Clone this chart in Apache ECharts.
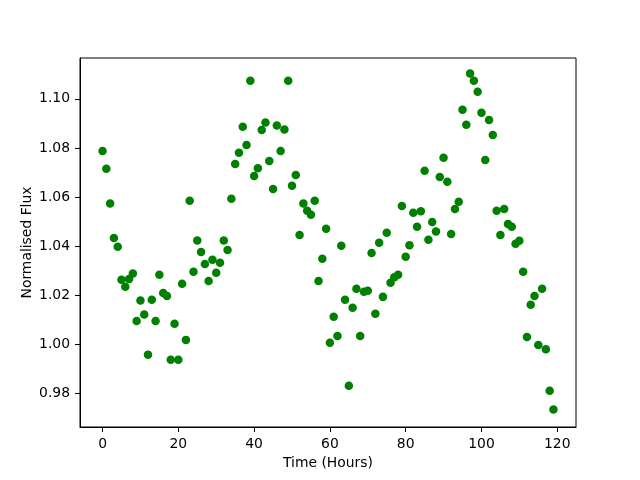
<!DOCTYPE html>
<html>
<head>
<meta charset="utf-8">
<script src="https://cdn.jsdelivr.net/npm/echarts@6/dist/echarts.min.js"></script>
<style>html,body{margin:0;padding:0;background:#fff}#c{width:640px;height:480px}</style>
</head>
<body>
<div id="c"></div>
<script>
const hours = Array.from({length:120},(_,i)=>i);
const flux = [
1.0788,1.0715,1.0574,1.0434,1.0398,1.0264,1.0235,1.0267,1.0289,1.0096,
1.0179,1.0122,0.9959,1.0182,1.0096,1.0284,1.0210,1.0198,0.9938,1.0085,
0.9938,1.0247,1.0019,1.0585,1.0296,1.0423,1.0377,1.0328,1.0259,1.0345,
1.0292,1.0333,1.0423,1.0385,1.0593,1.0735,1.0780,1.0886,1.0812,1.1073,
1.0686,1.0717,1.0873,1.0904,1.0747,1.0633,1.0891,1.0788,1.0875,1.1073,
1.0646,1.0690,1.0446,1.0574,1.0544,1.0528,1.0585,1.0259,1.0349,1.0471,
1.0007,1.0113,1.0035,1.0402,1.0182,0.9832,1.0150,1.0227,1.0035,1.0215,
1.0219,1.0373,1.0125,1.0414,1.0194,1.0455,1.0251,1.0274,1.0284,1.0564,
1.0357,1.0404,1.0536,1.0479,1.0542,1.0707,1.0426,1.0499,1.0460,1.0682,
1.0760,1.0662,1.0450,1.0552,1.0581,1.0955,1.0894,1.1103,1.1073,1.1029,
1.0943,1.0751,1.0914,1.0853,1.0544,1.0446,1.0552,1.0491,1.0479,1.0410,
1.0422,1.0296,1.0031,1.0162,1.0198,0.9998,1.0227,0.9981,0.9812,0.9736
];
const xTicks = [0,20,40,60,80,100,120];
const yTicks = [0.98,1.00,1.02,1.04,1.06,1.08,1.10];

const font = 'DejaVu Sans';
const chart = echarts.init(document.getElementById('c'), null, {renderer:'canvas'});
chart.setOption({
  animation:false,
  backgroundColor:'#fff',
  grid:{left:80,right:64,top:58,bottom:53,show:true,borderColor:'#000',borderWidth:1,backgroundColor:'#fff'},
  xAxis:{
    type:'value', min:-5.95, max:124.95,
    name:'Time (Hours)', nameLocation:'middle', nameGap:29, nameMoveOverlap:false,
    nameTextStyle:{fontFamily:font,fontSize:13.9,color:'#000',verticalAlign:'top'},
    axisLine:{show:true,onZero:false,lineStyle:{color:'#000',width:1}},
    axisTick:{show:true,inside:false,length:5,lineStyle:{color:'#000'},customValues:xTicks},
    axisLabel:{show:true,margin:10,fontFamily:font,fontSize:13.9,color:'#000',customValues:xTicks,formatter:v=>String(v)},
    splitLine:{show:false}
  },
  yAxis:{
    type:'value', min:0.96645, max:1.1166,
    name:'Normalised Flux', nameLocation:'middle', nameGap:53, nameMoveOverlap:false,
    nameTextStyle:{fontFamily:font,fontSize:13.9,color:'#000',verticalAlign:'middle'},
    axisLine:{show:true,onZero:false,lineStyle:{color:'#000',width:1}},
    axisTick:{show:true,inside:false,length:5,lineStyle:{color:'#000'},customValues:yTicks},
    axisLabel:{show:true,margin:10,fontFamily:font,fontSize:13.9,color:'#000',customValues:yTicks,formatter:v=>v.toFixed(2)},
    splitLine:{show:false}
  },
  series:[{
    type:'scatter',
    data:hours.map((h,i)=>[h,flux[i]]),
    symbol:'circle', symbolSize:8.5,
    itemStyle:{color:'#008000',opacity:1}
  }]
});
</script>
</body>
</html>
